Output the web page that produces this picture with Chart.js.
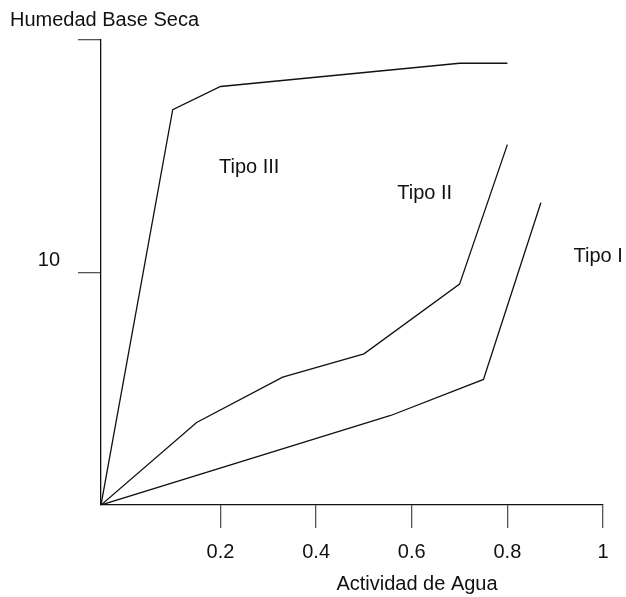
<!DOCTYPE html>
<html>
<head>
<meta charset="utf-8">
<script src="https://cdn.jsdelivr.net/npm/chart.js@4"></script>
<style>
  body { margin: 0; background: #fff; }
  #wrap { width: 626px; height: 597px; }
</style>
</head>
<body>
<div id="wrap"><canvas id="chart" width="626" height="597"></canvas></div>
<script>
// curves (x = actividad de agua, y = humedad base seca)
const tipoIIIx = [-0.05, 0.10, 0.20, 0.70, 0.80]
const tipoIIIy = [0, 17.0, 18.0, 19.0, 19.0]
const tipoIIx = [-0.05, 0.15, 0.33, 0.50, 0.70, 0.80]
const tipoIIy = [0, 3.55, 5.5, 6.5, 9.5, 15.5]
const tipoIx = [-0.05, 0.556, 0.75, 0.87]
const tipoIy = [0, 3.85, 5.4, 13.0]

const xTicks = [0.2, 0.4, 0.6, 0.8, 1]
const yTicks = [10, 20]
const yTickLabels = ['10', '']

const curveLabels = ['Tipo III', 'Tipo II', 'Tipo I']
const curveLabelX = [0.26, 0.627, 0.99]
const curveLabelY = [14.5, 13.4, 10.7]

const FONT = 'Liberation Sans, Arial, sans-serif'

const toPoints = (xs, ys) => xs.map((x, i) => ({ x: x, y: ys[i] }))

const lineSet = (xs, ys) => ({
  data: toPoints(xs, ys),
  borderColor: '#111',
  borderWidth: 1.3,
  pointRadius: 0,
  tension: 0,
  fill: false
})

const textPlugin = {
  id: 'texts',
  afterDraw(chart) {
    const ctx = chart.ctx
    const xs = chart.scales.x
    const ys = chart.scales.y
    ctx.save()
    ctx.fillStyle = '#111'
    ctx.font = '20px ' + FONT
    ctx.textBaseline = 'middle'
    ctx.textAlign = 'center'
    curveLabels.forEach((t, i) => {
      ctx.fillText(t, xs.getPixelForValue(curveLabelX[i]), ys.getPixelForValue(curveLabelY[i]))
    })
    ctx.textAlign = 'left'
    ctx.fillText('Humedad Base Seca', 10, 20)
    ctx.textAlign = 'center'
    ctx.fillText('Actividad de Agua', 417, 584)
    ctx.restore()
  }
}

new Chart(document.getElementById('chart'), {
  type: 'line',
  data: {
    datasets: [
      lineSet(tipoIIIx, tipoIIIy),
      lineSet(tipoIIx, tipoIIy),
      lineSet(tipoIx, tipoIy)
    ]
  },
  options: {
    responsive: false,
    animation: false,
    layout: { padding: { top: 40, right: 23, left: 0, bottom: 0 } },
    plugins: { legend: { display: false }, tooltip: { enabled: false } },
    scales: {
      x: {
        type: 'linear',
        min: -0.05,
        max: 1,
        afterBuildTicks: (scale) => { scale.ticks = xTicks.map(v => ({ value: v })) },
        afterFit: (scale) => { scale.height = 92 },
        border: { color: '#111', width: 1.3 },
        grid: { drawOnChartArea: false, tickLength: 23, color: '#555', lineWidth: 1.3 },
        ticks: { padding: 12, color: '#111', font: { size: 20, family: FONT }, maxRotation: 0,
          callback: (v) => String(v) }
      },
      y: {
        min: 0,
        max: 20,
        afterBuildTicks: (scale) => { scale.ticks = yTicks.map(v => ({ value: v })) },
        afterFit: (scale) => { scale.width = 101 },
        border: { color: '#111', width: 1.3 },
        grid: { drawOnChartArea: false, tickLength: 23, color: '#555', lineWidth: 1.3 },
        ticks: { padding: 18, labelOffset: -12, color: '#111', font: { size: 20, family: FONT },
          callback: (v, i) => yTickLabels[i] }
      }
    }
  },
  plugins: [textPlugin]
})
</script>
</body>
</html>
